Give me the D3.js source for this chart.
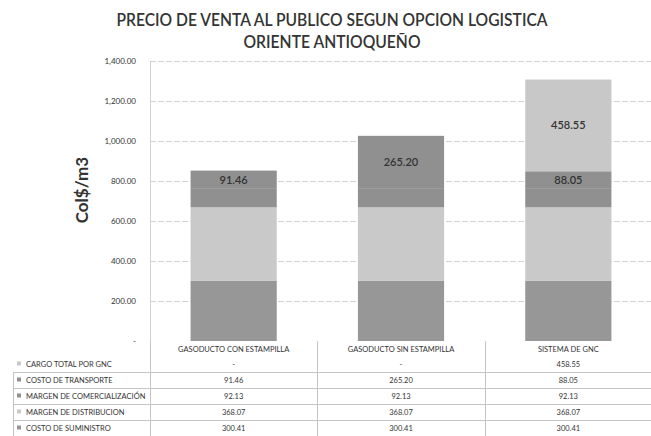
<!DOCTYPE html>
<html lang="es">
<head>
<meta charset="utf-8">
<title>Precio de venta al publico</title>
<style>
  body { margin: 0; background: #fff; }
  text { font-family: Lato, "Open Sans", sans-serif; fill: #333; }
</style>
</head>
<body>
<svg id="chart" width="651" height="436"></svg>
<script src="https://d3js.org/d3.v7.min.js"></script>
<script>
// categories (x) and series (stacked bottom -> top)
const categories = ["GASODUCTO CON ESTAMPILLA", "GASODUCTO SIN ESTAMPILLA", "SISTEMA DE GNC"]
const seriesNames = ["COSTO DE SUMINISTRO", "MARGEN DE DISTRIBUCION", "MARGEN DE COMERCIALIZACIÓN", "COSTO DE TRANSPORTE", "CARGO TOTAL POR GNC"]
const suministro = [300.41, 300.41, 300.41]
const distribucion = [368.07, 368.07, 368.07]
const comercializacion = [92.13, 92.13, 92.13]
const transporte = [91.46, 265.20, 88.05]
const cargoGnc = [0, 0, 458.55]
const yTicks = [0, 200, 400, 600, 800, 1000, 1200, 1400]

const seriesValues = [suministro, distribucion, comercializacion, transporte, cargoGnc]
const colors = ["#979797", "#c9c9c9", "#909090", "#909090", "#c8c8c8"]
const labelled = ["COSTO DE TRANSPORTE", "CARGO TOTAL POR GNC"]

const svg = d3.select("#chart")

const rows = categories.map((c, i) => {
    const r = { cat: c }
    seriesNames.forEach((s, j) => { r[s] = seriesValues[j][i] })
    return r
})
const stacked = d3.stack().keys(seriesNames)(rows)

const x = d3.scaleBand().domain(categories).range([150, 652]).paddingInner(0.485).paddingOuter(0.2425)
const y = d3.scaleLinear().domain([0, 1400]).range([341, 61])

// title
svg.append("text").attr("x", 332).attr("y", 26).attr("text-anchor", "middle")
    .style("font-size", "17px").style("font-weight", "600")
    .attr("textLength", 431).attr("lengthAdjust", "spacingAndGlyphs")
    .text("PRECIO DE VENTA AL PUBLICO SEGUN OPCION LOGISTICA")
svg.append("text").attr("x", 332).attr("y", 48).attr("text-anchor", "middle")
    .style("font-size", "17px").style("font-weight", "600")
    .attr("textLength", 177).attr("lengthAdjust", "spacingAndGlyphs")
    .text("ORIENTE ANTIOQUEÑO")

// gridlines
svg.append("g").selectAll("line").data(yTicks.filter(d => d > 0)).join("line")
    .attr("x1", 150).attr("x2", 651)
    .attr("y1", d => y(d) + 0.5).attr("y2", d => y(d) + 0.5)
    .attr("stroke", "#d2d2d2").attr("stroke-dasharray", "6,2")

// y axis
const yAxis = svg.append("g").attr("transform", "translate(150,0)")
    .call(d3.axisLeft(y).tickValues(yTicks).tickSize(0).tickPadding(14)
        .tickFormat(d => d === 0 ? "-" : d3.format(",.2f")(d)))
yAxis.select(".domain").attr("stroke", "#d0d0d0")
yAxis.selectAll("text").style("font-size", "8px").attr("fill", "#444")

svg.append("text").attr("transform", "translate(88,190) rotate(-90)")
    .attr("text-anchor", "middle").style("font-size", "17px").style("font-weight", "bold")
    .attr("fill", "#333").text("Col$/m3")

// bars
const layers = svg.append("g").selectAll("g").data(stacked).join("g")
    .attr("fill", (d, i) => colors[i])
layers.selectAll("rect").data(d => d).join("rect")
    .attr("x", d => x(d.data.cat))
    .attr("width", x.bandwidth())
    .attr("y", d => y(d[1]))
    .attr("height", d => y(d[0]) - y(d[1]))

// data labels
stacked.filter(s => labelled.includes(s.key)).forEach(s => {
    svg.append("g").selectAll("text").data(s.filter(d => d[1] - d[0] > 0)).join("text")
        .attr("x", d => x(d.data.cat) + x.bandwidth() / 2)
        .attr("y", d => (y(d[0]) + y(d[1])) / 2 + 4)
        .attr("text-anchor", "middle").style("font-size", "11px").style("font-weight", "600")
        .attr("fill", "#3a3a3a")
        .text(d => (d[1] - d[0]).toFixed(2))
})

// data table
const table = svg.append("g")
const rowY = [364, 380, 396, 412, 428]
const tableOrder = seriesNames.slice().reverse()
const gridColor = "#c4c4c4"

// category header
table.selectAll("text.cat").data(categories).join("text").attr("class", "cat")
    .attr("x", d => x(d) + x.bandwidth() / 2).attr("y", 352)
    .attr("text-anchor", "middle").style("font-size", "7.5px").text(d => d)

// horizontal rules
table.selectAll("line.h").data(rowY).join("line").attr("class", "h")
    .attr("x1", 13).attr("x2", 651)
    .attr("y1", d => d + 8.5).attr("y2", d => d + 8.5)
    .attr("stroke", gridColor)

// vertical rules
const colEdges = [150].concat(categories.map(c => x(c) + x.bandwidth() / 2 + x.step() / 2))
table.selectAll("line.v").data(colEdges).join("line").attr("class", "v")
    .attr("x1", d => Math.round(d) + 0.5).attr("x2", d => Math.round(d) + 0.5)
    .attr("y1", 341).attr("y2", 436).attr("stroke", gridColor)
table.append("line").attr("x1", 13.5).attr("x2", 13.5).attr("y1", 372).attr("y2", 436).attr("stroke", gridColor)

tableOrder.forEach((name, r) => {
    const k = seriesNames.indexOf(name)
    table.append("rect").attr("x", 17).attr("y", rowY[r] - 2.5).attr("width", 4).attr("height", 4)
        .attr("fill", colors[k])
    table.append("text").attr("x", 26).attr("y", rowY[r] + 3)
        .style("font-size", "7.5px").text(name)
    table.append("g").selectAll("text").data(categories).join("text")
        .attr("x", d => x(d) + x.bandwidth() / 2).attr("y", rowY[r] + 3)
        .attr("text-anchor", "middle").style("font-size", "7.5px")
        .text((d, i) => seriesValues[k][i] === 0 ? "-" : seriesValues[k][i].toFixed(2))
})
</script>
</body>
</html>
